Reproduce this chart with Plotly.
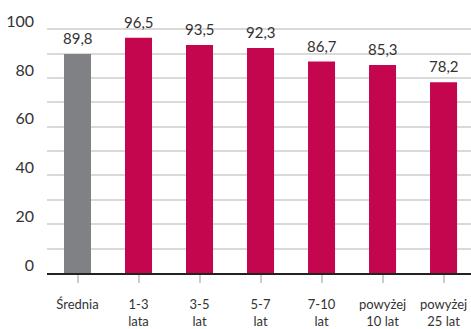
import plotly.graph_objects as go

categories = ["Średnia", "1-3<br>lata", "3-5<br>lat", "5-7<br>lat", "7-10<br>lat", "powyżej<br>10 lat", "powyżej<br>25 lat"]
values = [89.8, 96.5, 93.5, 92.3, 86.7, 85.3, 78.2]
labels = ["89,8", "96,5", "93,5", "92,3", "86,7", "85,3", "78,2"]
colors = ["#808184"] + ["#C4064F"] * 6
y_ticks = [0, 20, 40, 60, 80, 100]

font_family = "Lato, Open Sans, sans-serif"
xs = list(range(len(categories)))

fig = go.Figure(go.Bar(
    x=xs,
    y=values,
    marker=dict(color=colors, line=dict(width=0)),
    width=0.443,
    cliponaxis=False,
))

for x, v, t in zip(xs, values, labels):
    fig.add_annotation(x=x, y=v, text=t, showarrow=False, yanchor="bottom",
                       yshift=5, font=dict(family=font_family, size=15, color="#333333"))

fig.update_layout(
    width=471, height=329,
    margin=dict(l=47, r=0, t=17, b=46),
    paper_bgcolor="white", plot_bgcolor="white",
    showlegend=False,
    font=dict(family=font_family, color="#333333"),
    xaxis=dict(
        tickmode="array",
        tickvals=xs,
        ticktext=categories,
        range=[-0.5, 6.45],
        showgrid=False,
        showline=True, linecolor="#222222", linewidth=2,
        ticks="outside", ticklen=8, tickwidth=2, tickcolor="#cccccc",
        ticklabelstandoff=10,
        tickfont=dict(family=font_family, size=13, color="#333333"),
        zeroline=False,
    ),
    yaxis=dict(
        range=[0, 105],
        tickvals=y_ticks,
        ticktext=[str(v) for v in y_ticks],
        showgrid=True, gridcolor="#d9d9d9", gridwidth=1.5,
        minor=dict(dtick=10, tick0=0, showgrid=True, gridcolor="#d9d9d9", gridwidth=1.5),
        zeroline=False,
        ticks="",
        ticklabelshift=-8,
        ticklabelstandoff=12,
        tickfont=dict(family=font_family, size=16, color="#333333"),
    ),
)

fig.write_html("out.html")
